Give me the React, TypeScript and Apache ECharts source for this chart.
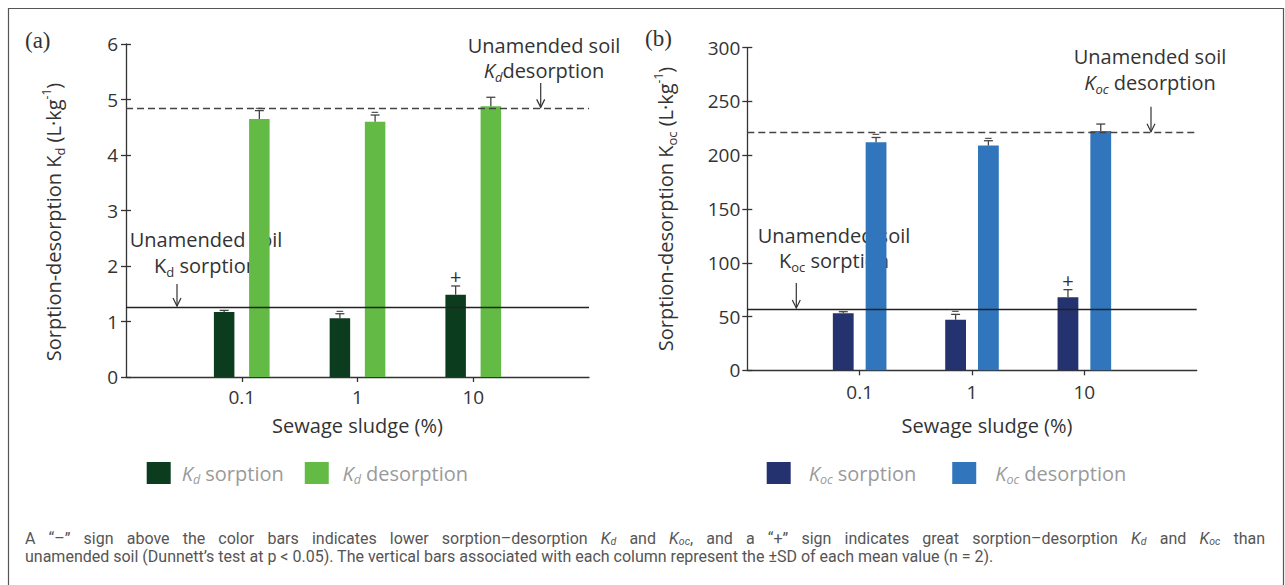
import React, { useEffect, useRef } from 'react';
import * as echarts from 'echarts';

// ---------------- data ----------------
const sludgeLevels = ['0.1', '1', '10'];

const kdSorption = [1.17, 1.06, 1.48];
const kdSorptionSD = [0.03, 0.08, 0.16];
const kdDesorption = [4.65, 4.6, 4.88];
const kdDesorptionSD = [0.15, 0.12, 0.16];
const kdSorptionSigns = ['', '−', '+'];
const kdDesorptionSigns = ['−', '−', ''];
const kdRefSorption = 1.26;
const kdRefDesorption = 4.84;
const kdAxisTicks = [0, 1, 2, 3, 4, 5, 6];

const kocSorption = [53, 47, 68];
const kocSorptionSD = [1.5, 5, 7];
const kocDesorption = [212, 209, 222.5];
const kocDesorptionSD = [4.5, 4.5, 6.5];
const kocSorptionSigns = ['', '−', '+'];
const kocDesorptionSigns = ['−', '−', ''];
const kocRefSorption = 57;
const kocRefDesorption = 221;
const kocAxisTicks = [0, 50, 100, 150, 200, 250, 300];

const captionLine1 =
  'A “–” sign above the color bars indicates lower sorption–desorption {i|K}{s|d} and {i|K}{s|oc}, and a “+” sign indicates great sorption–desorption {i|K}{s|d} and {i|K}{s|oc} than';
const captionLine2 =
  'unamended soil (Dunnett’s test at p < 0.05). The vertical bars associated with each column represent the ±SD of each mean value (n = 2).';

// ---------------- style ----------------
const COLORS = { kdS: '#0c3c1e', kdD: '#63bb46', kocS: '#243270', kocD: '#3176bc' };
const INK = '#333333';
const FONT = '"Open Sans", sans-serif';
const CAP_FONT = 'Roboto';
const CAP_SIZE = 16;

const categories = ['', ...sludgeLevels, ''];
const pad = (a: number[]) => [null, ...a, null];

const BAR_A = 20.5;
const GAP_A = 14.7;
const BAR_B = 20.8;
const GAP_B = 12;

function errorSeries(
  xAxisIndex: number,
  yAxisIndex: number,
  means: number[],
  sds: number[],
  signs: string[],
  offset: number
) {
  return {
    type: 'custom',
    xAxisIndex,
    yAxisIndex,
    z: 4,
    silent: true,
    data: means.map((m, i) => [i + 1, m, sds[i]]),
    renderItem: (params: any, api: any) => {
      const idx = api.value(0);
      const m = api.value(1);
      const sd = api.value(2);
      const base = api.coord([idx, m]);
      const top = api.coord([idx, m + sd]);
      const x = base[0] + offset;
      const st = { stroke: '#444', lineWidth: 1.3 };
      const children: any[] = [
        { type: 'line', shape: { x1: x, y1: base[1], x2: x, y2: top[1] }, style: st },
        { type: 'line', shape: { x1: x - 4.5, y1: top[1], x2: x + 4.5, y2: top[1] }, style: st },
      ];
      const sign = signs[params.dataIndex];
      if (sign) {
        const plus = sign === '+';
        children.push({
          type: 'text',
          x,
          y: top[1] - (plus ? 9 : 3.5),
          style: {
            text: sign,
            fontSize: plus ? 20 : 14,
            fontFamily: FONT,
            fill: INK,
            textAlign: 'center',
            textVerticalAlign: 'middle',
          },
        });
      }
      return { type: 'group', children };
    },
  };
}

const axisLineStyle = { color: INK, width: 1.3 };

function yAxes(gridIndex: number, ticks: number[], name: string, nameGap: number, namePad: number[], labelMargin: number) {
  const min = ticks[0];
  const max = ticks[ticks.length - 1];
  const interval = ticks[1] - ticks[0];
  return [
    {
      gridIndex,
      type: 'value',
      min,
      max,
      interval,
      position: 'left',
      axisLine: { show: true, lineStyle: axisLineStyle },
      axisTick: { show: true, length: 5, lineStyle: axisLineStyle },
      axisLabel: { fontSize: 19, fontFamily: FONT, color: INK, margin: labelMargin },
      splitLine: { show: false },
      name,
      nameLocation: 'middle',
      nameGap,
      nameTextStyle: {
        fontSize: 20,
        fontFamily: FONT,
        color: INK,
        lineHeight: 26,
        padding: namePad,
        rich: {
          sub: { fontSize: 13, lineHeight: 13, verticalAlign: 'bottom', fontFamily: FONT, color: INK },
          sup: { fontSize: 12, lineHeight: 12, verticalAlign: 'top', fontFamily: FONT, color: INK },
        },
      },
    },
    {
      gridIndex,
      type: 'value',
      min,
      max,
      interval,
      position: 'left',
      axisLine: { show: false },
      axisTick: { show: true, inside: true, length: 5, lineStyle: axisLineStyle },
      axisLabel: { show: false },
      splitLine: { show: false },
    },
  ];
}

function xAxis(gridIndex: number, nameGap: number, namePad: number[], labelMargin: number) {
  return {
    gridIndex,
    type: 'category',
    data: categories,
    boundaryGap: false,
    axisLine: { lineStyle: axisLineStyle },
    axisTick: {
      length: 5,
      lineStyle: axisLineStyle,
      interval: (i: number) => i > 0 && i < categories.length - 1,
    },
    axisLabel: { interval: 0, fontSize: 19, fontFamily: FONT, color: INK, margin: labelMargin },
    name: 'Sewage sludge (%)',
    nameLocation: 'middle',
    nameGap,
    nameTextStyle: { fontSize: 20, fontFamily: FONT, color: INK, padding: namePad },
  };
}

function refLine(value: number, dashed: boolean) {
  return {
    silent: true,
    symbol: 'none',
    label: { show: false },
    lineStyle: { color: dashed ? '#444' : '#222', width: 1.3, type: dashed ? [7, 4] : 'solid' },
    data: [{ yAxis: value }],
  };
}

const LEG_COLOR = '#9a9a9a';
const legendRich = (padK: number) => ({
  K: { fontStyle: 'italic', fontSize: 20, lineHeight: 26, fontFamily: FONT, color: LEG_COLOR, padding: [0, 0, 0, padK] },
  s: { fontStyle: 'italic', fontSize: 12.5, lineHeight: 12, verticalAlign: 'bottom', fontFamily: FONT, color: LEG_COLOR },
});

function measureWord(ctx: CanvasRenderingContext2D, word: string) {
  let w = 0;
  const re = /\{(\w+)\|([^}]*)\}|([^{]+)/g;
  let m: RegExpExecArray | null;
  while ((m = re.exec(word))) {
    if (m[1]) {
      ctx.font = m[1] === 's' ? `italic 10.5px ${CAP_FONT}` : `italic ${CAP_SIZE}px ${CAP_FONT}`;
      w += ctx.measureText(m[2]).width;
    } else {
      ctx.font = `${CAP_SIZE}px ${CAP_FONT}`;
      w += ctx.measureText(m[3]).width;
    }
  }
  return w;
}

const capRich = {
  i: { fontStyle: 'italic', fontSize: CAP_SIZE, lineHeight: 18, fontFamily: CAP_FONT, color: '#555' },
  s: { fontStyle: 'italic', fontSize: 10.5, lineHeight: 10, verticalAlign: 'bottom', fontFamily: CAP_FONT, color: '#555' },
};

function capText(x: number, y: number, text: string) {
  return {
    type: 'text',
    x,
    y,
    silent: true,
    style: {
      text,
      fontSize: CAP_SIZE,
      fontFamily: CAP_FONT,
      lineHeight: 18,
      fill: '#555',
      textAlign: 'left',
      textVerticalAlign: 'middle',
      rich: capRich,
    },
  };
}

const annRich = {
  i: { fontStyle: 'italic', fontSize: 20, lineHeight: 26, fontFamily: FONT, color: INK },
  is: { fontStyle: 'italic', fontSize: 13, lineHeight: 13, verticalAlign: 'bottom', fontFamily: FONT, color: INK },
  s: { fontSize: 13, lineHeight: 13, verticalAlign: 'bottom', fontFamily: FONT, color: INK },
};

function annText(x: number, y: number, text: string) {
  return {
    type: 'text',
    x,
    y,
    silent: true,
    style: {
      text,
      fontSize: 20,
      fontFamily: FONT,
      lineHeight: 26,
      fill: INK,
      textAlign: 'center',
      textVerticalAlign: 'middle',
      rich: annRich,
    },
  };
}

function arrow(x: number, yTop: number, tip: number) {
  return [
    { type: 'line', silent: true, shape: { x1: x, y1: yTop, x2: x, y2: tip }, style: { stroke: INK, lineWidth: 1.2 } },
    {
      type: 'polyline',
      silent: true,
      shape: { points: [[x - 4, tip - 8], [x, tip], [x + 4, tip - 8]] },
      style: { stroke: INK, fill: 'none', lineWidth: 1.2 },
    },
  ];
}

export default function App() {
  const ref = useRef<HTMLDivElement>(null);

  useEffect(() => {
    document.body.style.margin = '0';
    const chart = echarts.init(ref.current!, undefined, { renderer: 'svg' });

    const option: any = {
      animation: false,
      backgroundColor: '#ffffff',
      grid: [
        { left: 126, top: 44, width: 463, height: 333, containLabel: false, outerBoundsMode: 'none' },
        { left: 747.3, top: 47.7, width: 449.4, height: 322.6, containLabel: false, outerBoundsMode: 'none' },
      ],
      xAxis: [xAxis(0, 38, [0, 0, 0, 0], 10), xAxis(1, 44.7, [0, 0, 0, 30], 12)],
      yAxis: [
        ...yAxes(0, kdAxisTicks, 'Sorption-desorption K{sub|d} (L·kg{sup|-1})', 60, [0, 23, 0, 0], 8),
        ...yAxes(1, kocAxisTicks, 'Sorption-desorption K{sub|oc} (L·kg{sup|-1})', 69, [0, 0, 0, 0], 7),
      ],
      legend: [
        {
          left: 146.7,
          top: 460,
          padding: 0,
          itemWidth: 24,
          itemHeight: 22,
          itemGap: 21,
          icon: 'rect',
          selectedMode: false,
          data: ['Kd sorption', 'Kd desorption'],
          formatter: (name: string) =>
            name === 'Kd sorption' ? '{K|K}{s|d} sorption' : '{K2|K}{s|d} desorption',
          textStyle: {
            fontSize: 20,
            fontFamily: FONT,
            color: LEG_COLOR,
            lineHeight: 26,
            rich: { ...legendRich(6), K2: legendRich(8.7).K },
          },
        },
        {
          left: 766.7,
          top: 460,
          padding: 0,
          itemWidth: 24,
          itemHeight: 22,
          itemGap: 36,
          icon: 'rect',
          selectedMode: false,
          data: ['Koc sorption', 'Koc desorption'],
          formatter: (name: string) =>
            name === 'Koc sorption' ? '{K|K}{s|oc} sorption' : '{K2|K}{s|oc} desorption',
          textStyle: {
            fontSize: 20,
            fontFamily: FONT,
            color: LEG_COLOR,
            lineHeight: 26,
            rich: { ...legendRich(13), K2: legendRich(14).K },
          },
        },
      ],
      series: [
        {
          type: 'bar',
          name: 'Kd sorption',
          xAxisIndex: 0,
          yAxisIndex: 0,
          z: 2,
          data: pad(kdSorption),
          barWidth: BAR_A,
          barGap: `${(GAP_A / BAR_A) * 100}%`,
          itemStyle: { color: COLORS.kdS },
          markLine: refLine(kdRefSorption, false),
        },
        {
          type: 'bar',
          name: 'Kd desorption',
          xAxisIndex: 0,
          yAxisIndex: 0,
          z: 2,
          data: pad(kdDesorption),
          barWidth: BAR_A,
          barGap: `${(GAP_A / BAR_A) * 100}%`,
          itemStyle: { color: COLORS.kdD },
          markLine: refLine(kdRefDesorption, true),
        },
        errorSeries(0, 0, kdSorption, kdSorptionSD, kdSorptionSigns, -(BAR_A + GAP_A) / 2),
        errorSeries(0, 0, kdDesorption, kdDesorptionSD, kdDesorptionSigns, (BAR_A + GAP_A) / 2),
        {
          type: 'bar',
          name: 'Koc sorption',
          xAxisIndex: 1,
          yAxisIndex: 2,
          z: 2,
          data: pad(kocSorption),
          barWidth: BAR_B,
          barGap: `${(GAP_B / BAR_B) * 100}%`,
          itemStyle: { color: COLORS.kocS },
          markLine: refLine(kocRefSorption, false),
        },
        {
          type: 'bar',
          name: 'Koc desorption',
          xAxisIndex: 1,
          yAxisIndex: 2,
          z: 2,
          data: pad(kocDesorption),
          barWidth: BAR_B,
          barGap: `${(GAP_B / BAR_B) * 100}%`,
          itemStyle: { color: COLORS.kocD },
          markLine: refLine(kocRefDesorption, true),
        },
        errorSeries(1, 2, kocSorption, kocSorptionSD, kocSorptionSigns, -(BAR_B + GAP_B) / 2),
        errorSeries(1, 2, kocDesorption, kocDesorptionSD, kocDesorptionSigns, (BAR_B + GAP_B) / 2),
      ],
    };

    chart.setOption(option);

    // reference-line pixel positions for annotation arrows
    const yKdD = chart.convertToPixel({ yAxisIndex: 0 }, kdRefDesorption) as number;
    const yKdS = chart.convertToPixel({ yAxisIndex: 0 }, kdRefSorption) as number;
    const yKocD = chart.convertToPixel({ yAxisIndex: 2 }, kocRefDesorption) as number;
    const yKocS = chart.convertToPixel({ yAxisIndex: 2 }, kocRefSorption) as number;

    // justified first caption line
    const canvas = document.createElement('canvas');
    const ctx = canvas.getContext('2d')!;
    const words = captionLine1.split(' ');
    const widths = words.map((w) => measureWord(ctx, w));
    const capLeft = 25;
    const capRight = 1265;
    const total = widths.reduce((a, b) => a + b, 0);
    const gap = (capRight - capLeft - total) / (words.length - 1);
    const captionEls: any[] = [];
    let cx = capLeft;
    words.forEach((w, i) => {
      captionEls.push(capText(cx, 538, w));
      cx += widths[i] + gap;
    });
    captionEls.push(capText(capLeft, 556, captionLine2));

    chart.setOption({
      graphic: [
        {
          type: 'rect',
          silent: true,
          shape: { x: 8.5, y: 8.5, width: 1275, height: 640 },
          style: { fill: 'none', stroke: '#555', lineWidth: 1.2 },
        },
        {
          type: 'text',
          x: 25,
          y: 40,
          silent: true,
          style: { text: '(a)', fontSize: 23, fontFamily: '"Liberation Serif", serif', fill: INK, textAlign: 'left', textVerticalAlign: 'middle' },
        },
        {
          type: 'text',
          x: 645,
          y: 38,
          silent: true,
          style: { text: '(b)', fontSize: 23, fontFamily: '"Liberation Serif", serif', fill: INK, textAlign: 'left', textVerticalAlign: 'middle' },
        },
        annText(544, 45, 'Unamended soil'),
        annText(544, 70.5, '{i|K}{is|d}desorption'),
        ...arrow(540.7, 83, yKdD - 1),
        annText(206, 239, 'Unamended soil'),
        annText(206, 265, 'K{s|d} sorption'),
        ...arrow(177, 284, yKdS - 1),
        annText(1150, 56.7, 'Unamended soil'),
        annText(1150, 82, '{i|K}{is|oc} desorption'),
        ...arrow(1151, 106.7, yKocD - 1),
        annText(834, 235, 'Unamended soil'),
        annText(834, 260.5, 'K{s|oc} sorption'),
        ...arrow(796.3, 283, yKocS - 1),
        ...captionEls,
      ],
    });

    return () => chart.dispose();
  }, []);

  return (
    <div
      ref={ref}
      style={{ position: 'absolute', left: 0, top: 0, width: 1285, height: 585, background: '#fff' }}
    />
  );
}
